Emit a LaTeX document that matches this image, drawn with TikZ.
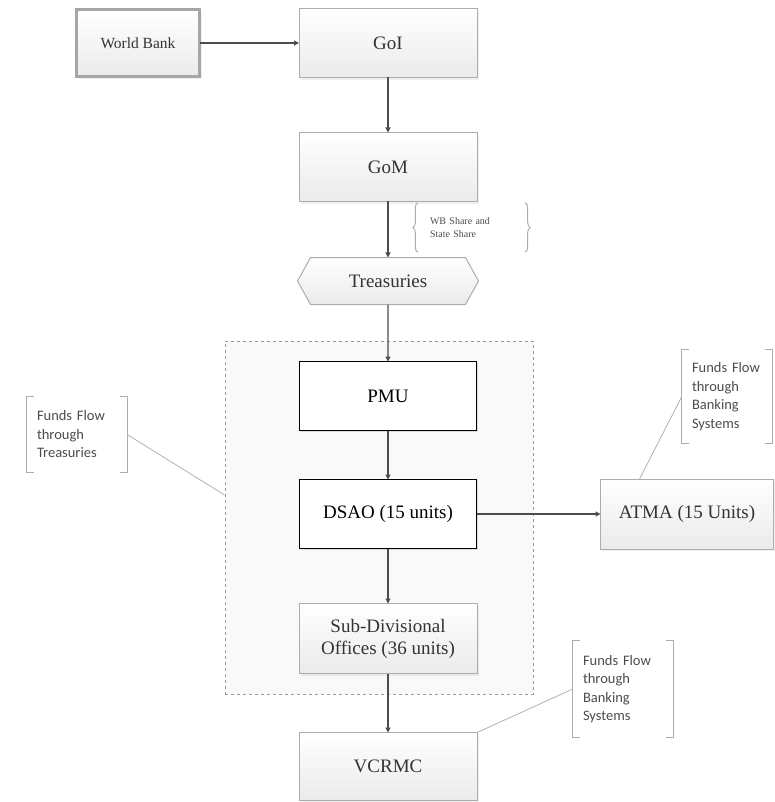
\documentclass[tikz,border=0pt]{standalone}
\usepackage{fontspec}
\setmainfont{Liberation Serif}
\newfontfamily\notefont{Carlito}
\usetikzlibrary{arrows.meta,shapes.symbols,positioning,shadows,decorations.pathreplacing}
\tikzset{
  base/.style={font=\fontsize{19}{22}\selectfont, align=center, inner sep=2pt, outer sep=0mm},
  gbox/.style={rectangle, draw=gray!65, line width=1pt, top color=white, bottom color=gray!16, minimum width=178pt, minimum height=69pt, text=black!80, base, drop shadow={opacity=0.12}},
  wbox/.style={rectangle, draw=black, line width=1pt, fill=white, minimum width=177pt, minimum height=69pt, base, drop shadow={opacity=0.25, shadow xshift=1.5pt, shadow yshift=-1.5pt}},
  hexa/.style={signal, signal to=west and east, signal pointer angle=122, draw=gray!65, line width=1pt, top color=white, bottom color=gray!16, minimum width=181pt, minimum height=47pt, text=black!80, base},
  group/.style={rectangle, draw=gray!80, dashed, line width=1pt, fill=gray!5, minimum width=308pt, minimum height=353pt},
  note/.style={font=\notefont\fontsize{14.5}{18.5}\selectfont, text=black!70, align=left, inner xsep=10pt, inner ysep=0pt},
  brk/.style={draw=gray!65, line width=1pt},
  link/.style={draw=gray!60, line width=0.8pt},
  arrow/.style={-{Triangle[length=5pt,width=5pt]}, line width=1.2pt, color=black!70}
}

\begin{document}
\begin{tikzpicture}[x=1pt, y=-1pt, node distance=55pt and 124pt]
    \useasboundingbox (0,0) rectangle (774,802);

    % dashed group round the district chain
    \node[group] (grp) at (379,517.5) {};

    \node[gbox, minimum width=123pt, minimum height=67pt, draw=gray!70, line width=2.5pt, font=\fontsize{15.5}{18}\selectfont] (wb) at (138,43) {World Bank};
    \node[gbox] (goi) at (388,43) {GoI};
    \node[gbox, below=55pt of goi] (gom) {GoM};
    \node[hexa, below=56pt of gom] (treas) {Treasuries};
    \node[wbox, below=57pt of treas] (pmu) {PMU};
    \node[wbox, below=49pt of pmu] (dsao) {DSAO (15 units)};
    \node[gbox, right=of dsao, minimum width=173pt, minimum height=70pt] (atma) {ATMA (15 Units)};
    \node[gbox, below=55pt of dsao, minimum height=70pt] (sub) {Sub-Divisional\\Offices (36 units)};
    \node[gbox, below=59pt of sub, minimum height=68pt] (vcrmc) {VCRMC};

    \draw[arrow] (wb) -- (goi);
    \draw[arrow] (goi) -- (gom);
    \draw[arrow] (gom) -- (treas);
    \draw[arrow] (treas) -- (pmu);
    \draw[arrow] (pmu) -- (dsao);
    \draw[arrow] (dsao) -- (atma);
    \draw[arrow] (dsao) -- (sub);
    \draw[arrow] (sub) -- (vcrmc);

    % callouts
    \node[font=\fontsize{10}{13}\selectfont, text=black!70, align=left, text width=83pt, inner xsep=12pt, minimum height=49pt] (share) at (471.5,227.5) {WB Share and\\State Share};
    \draw[brk, decorate, decoration={brace, amplitude=5pt}] (share.south west) -- (share.north west);
    \draw[brk, decorate, decoration={brace, amplitude=5pt}] (share.north east) -- (share.south east);

    \node[note, text width=80pt, minimum height=75pt] (ntreas) at (77,434.5) {Funds Flow\\through\\Treasuries};
    \node[note, text width=70pt, minimum height=93pt] (nbank) at (727,396.5) {Funds Flow\\through\\Banking\\Systems};
    \node[note, text width=80pt, minimum height=96pt] (nbanktwo) at (623,689) {Funds Flow\\through\\Banking\\Systems};

    \draw[brk] ([xshift=7pt]ntreas.north west) -- (ntreas.north west) -- (ntreas.south west) -- ++(7pt,0);
    \draw[brk] ([xshift=-7pt]ntreas.north east) -- (ntreas.north east) -- (ntreas.south east) -- ++(-7pt,0);
    \draw[brk] ([xshift=7pt]nbank.north west) -- (nbank.north west) -- (nbank.south west) -- ++(7pt,0);
    \draw[brk] ([xshift=-7pt]nbank.north east) -- (nbank.north east) -- (nbank.south east) -- ++(-7pt,0);
    \draw[brk] ([xshift=7pt]nbanktwo.north west) -- (nbanktwo.north west) -- (nbanktwo.south west) -- ++(7pt,0);
    \draw[brk] ([xshift=-7pt]nbanktwo.north east) -- (nbanktwo.north east) -- (nbanktwo.south east) -- ++(-7pt,0);

    \draw[link] (ntreas.east) -- ([yshift=22.5pt]grp.west);
    \draw[link] (nbank.west) -- ([xshift=39pt]atma.north west);
    \draw[link] (nbanktwo.west) -- (vcrmc.north east);
  \end{tikzpicture}
\end{document}
